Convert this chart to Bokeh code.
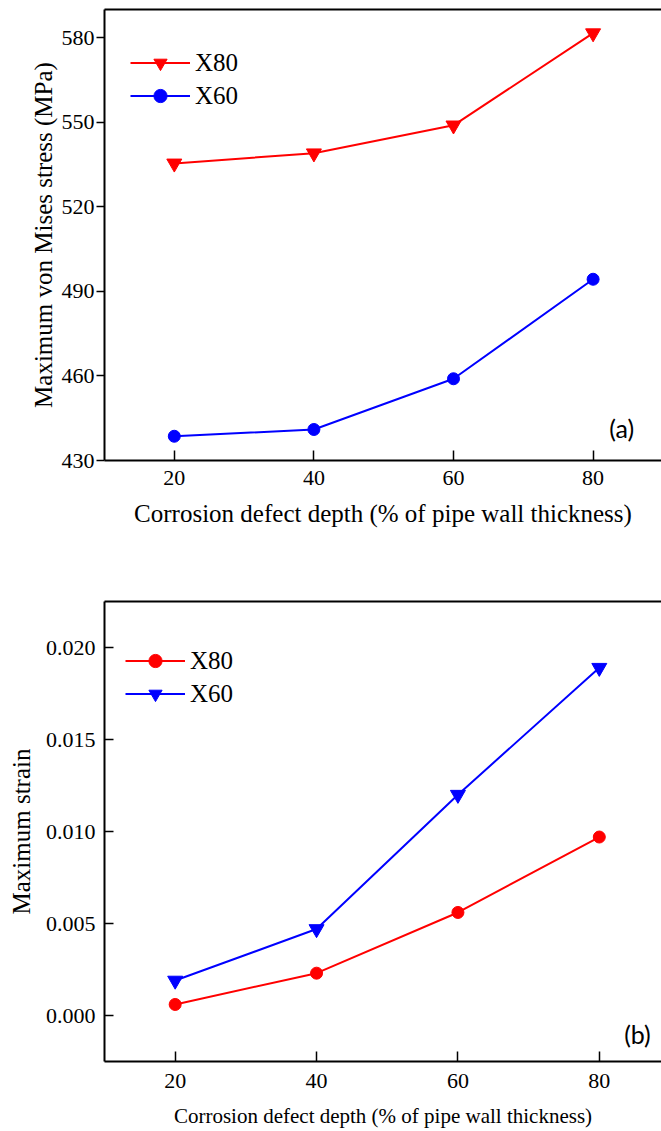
from bokeh.plotting import figure
from bokeh.models import Range1d, LinearAxis, Legend, LegendItem, Label, FixedTicker, PrintfTickFormatter
from bokeh.layouts import column
from bokeh.embed import file_html
from bokeh.resources import INLINE

# ---- data ----
depth = [20, 40, 60, 80]
stress_x80 = [535.4, 539.0, 548.9, 581.6]
stress_x60 = [438.6, 441.0, 459.0, 494.3]
strain_x80 = [0.0006, 0.0023, 0.0056, 0.0097]
strain_x60 = [0.0019, 0.0047, 0.0120, 0.0189]
x_ticks = [20, 40, 60, 80]
stress_ticks = [430, 460, 490, 520, 550, 580]
strain_ticks = [0.000, 0.005, 0.010, 0.015, 0.020]
x_label = "Corrosion defect depth (% of pipe wall thickness)"

SERIF = "Liberation Serif"
RED = "#FF0000"
BLUE = "#0000FF"


def base_fig(height, xr, yr, bl, bt, bb):
    p = figure(width=661, height=height, x_range=Range1d(*xr), y_range=Range1d(*yr),
               output_backend="svg", toolbar_location=None,
               min_border_left=bl, min_border_right=0, min_border_top=bt, min_border_bottom=bb)
    p.xgrid.visible = False
    p.ygrid.visible = False
    p.outline_line_color = None
    p.background_fill_color = "white"
    p.border_fill_color = "white"
    xa = p.below[0]
    ya = p.left[0]
    for ax in (xa, ya):
        ax.axis_line_width = 2
        ax.axis_line_color = "black"
        ax.major_tick_line_width = 1.5
        ax.major_tick_line_color = "black"
        ax.minor_tick_line_color = None
        ax.major_label_text_font = SERIF
        ax.major_label_text_color = "black"
        ax.axis_label_text_font = SERIF
        ax.axis_label_text_font_style = "normal"
        ax.axis_label_text_color = "black"
    xa.ticker = FixedTicker(ticks=x_ticks)
    xa.major_tick_in = 10
    xa.major_tick_out = 0
    top = LinearAxis(ticker=FixedTicker(ticks=[]), major_tick_in=0, major_tick_out=0,
                     minor_tick_in=0, minor_tick_out=0, major_label_standoff=0,
                     axis_line_width=2, axis_line_color="black")
    p.add_layout(top, "above")
    return p, xa, ya


def make_legend(items, loc):
    return Legend(items=items, location=loc, glyph_width=60, glyph_height=33, label_height=33,
                  spacing=0, padding=0, margin=0, label_standoff=5,
                  border_line_color=None, background_fill_alpha=0,
                  label_text_font=SERIF, label_text_font_size="25px", label_text_color="black")


# ---- panel (a) ----
p1, x1, y1 = base_fig(545, (10, 89.8), (430, 590), 104, 9, 85)
y1.ticker = FixedTicker(ticks=stress_ticks)
y1.major_tick_in = 0
y1.major_tick_out = 8
y1.major_label_standoff = 2
y1.major_label_text_font_size = "22px"
y1.axis_label = "Maximum von Mises stress (MPa)"
y1.axis_label_text_font_size = "25px"
y1.axis_label_standoff = 2
x1.major_label_text_font_size = "22px"
x1.major_label_standoff = 10
x1.axis_label = x_label
x1.axis_label_text_font_size = "25px"
x1.axis_label_standoff = 12

a80l = p1.line(depth, stress_x80, line_color=RED, line_width=2)
a80m = p1.scatter(depth, stress_x80, marker="inverted_triangle", size=15, color=RED)
a60l = p1.line(depth, stress_x60, line_color=BLUE, line_width=2)
a60m = p1.scatter(depth, stress_x60, marker="circle", size=12, color=BLUE)

p1.add_layout(make_legend([LegendItem(label="X80", renderers=[a80l, a80m]),
                           LegendItem(label="X60", renderers=[a60l, a60m])], (26, 348)), "center")
p1.add_layout(Label(x=84.1, y=441.4, text="(a)", text_font="Lato", text_font_size="25px",
                    text_align="center", text_baseline="middle", text_color="black"))

# ---- panel (b) ----
p2, x2, y2 = base_fig(586, (10, 88.8), (-0.0025, 0.0225), 99, 56, 70)
y2.ticker = FixedTicker(ticks=strain_ticks)
y2.formatter = PrintfTickFormatter(format="%.3f")
y2.major_tick_in = 9
y2.major_tick_out = 0
y2.major_label_standoff = 9
y2.major_label_text_font_size = "22px"
y2.axis_label = "Maximum strain"
y2.axis_label_text_font_size = "25px"
y2.axis_label_standoff = 8
x2.major_label_text_font_size = "22px"
x2.major_label_standoff = 12
x2.axis_label = x_label
x2.axis_label_text_font_size = "21px"
x2.axis_label_standoff = 13

b80l = p2.line(depth, strain_x80, line_color=RED, line_width=2)
b80m = p2.scatter(depth, strain_x80, marker="circle", size=12, color=RED)
b60l = p2.line(depth, strain_x60, line_color=BLUE, line_width=2)
b60m = p2.scatter(depth, strain_x60, marker="inverted_triangle", size=15, color=BLUE)

p2.add_layout(make_legend([LegendItem(label="X80", renderers=[b80l, b80m]),
                           LegendItem(label="X60", renderers=[b60l, b60m])], (21, 351)), "center")
p2.add_layout(Label(x=85.4, y=-0.00098, text="(b)", text_font="Lato", text_font_size="25px",
                    text_align="center", text_baseline="middle", text_color="black"))

layout = column(p1, p2, spacing=0)
open("out.html", "w").write(file_html(layout, INLINE))
